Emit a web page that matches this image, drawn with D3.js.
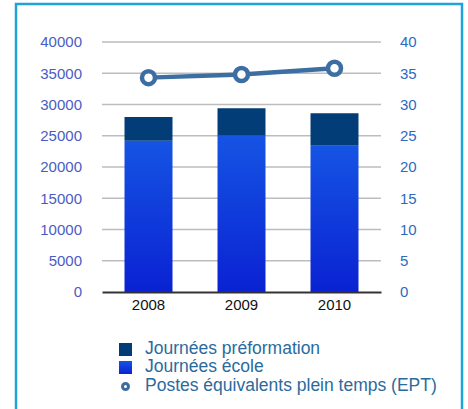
<!DOCTYPE html>
<html><head><meta charset="utf-8">
<script src="https://cdn.jsdelivr.net/npm/d3@7"></script>
<style>body{margin:0;background:#fff;font-family:"Liberation Sans",Arial,sans-serif}</style>
</head><body><svg id="c" width="468" height="409"></svg>
<script>
const years = ["2008","2009","2010"];
const ecole = [24200, 25000, 23500];
const preformation = [3800, 4400, 5100];
const ept = [34.3, 34.8, 35.8];
const leftTicks = [0,5000,10000,15000,20000,25000,30000,35000,40000];
const rightTicks = [0,5,10,15,20,25,30,35,40];
const legendLabels = ["Journées préformation","Journées école","Postes équivalents plein temps (EPT)"];

const svg = d3.select("#c");
const defs = svg.append("defs");
const g = defs.append("linearGradient").attr("id","gb").attr("x1",0).attr("x2",0).attr("y1",0).attr("y2",1);
g.append("stop").attr("offset","0%").attr("stop-color","#1554e4");
g.append("stop").attr("offset","100%").attr("stop-color","#0a22d2");

// frame
svg.append("rect").attr("x",16).attr("y",4).attr("width",446).attr("height",420)
  .attr("fill","none").attr("stroke","#1fa3d8").attr("stroke-width",2.5);

const x = d3.scaleBand().domain(years).range([102,381]).paddingInner(0.484).paddingOuter(0.242);
const yL = d3.scaleLinear().domain([0,40000]).range([292,42]);
const yR = d3.scaleLinear().domain([0,40]).range([292,42]);

// gridlines
svg.append("g").selectAll("line").data(leftTicks.slice(1)).join("line")
  .attr("x1",102).attr("x2",381).attr("y1",d=>yL(d)).attr("y2",d=>yL(d))
  .attr("stroke","#bdbdbd").attr("stroke-width",1.5);

// left axis
const axL = svg.append("g").attr("transform","translate(102,0)")
  .call(d3.axisLeft(yL).tickValues(leftTicks).tickSize(0).tickPadding(20).tickFormat(d3.format("d")));
axL.select(".domain").remove();
axL.selectAll("text").attr("fill","#4a5cc4").style("font-size","15px").style("font-family","Liberation Sans, Arial, sans-serif");

const axR = svg.append("g").attr("transform","translate(381,0)")
  .call(d3.axisRight(yR).tickValues(rightTicks).tickSize(0).tickPadding(19));
axR.select(".domain").remove();
axR.selectAll("text").attr("fill","#2c6bbf").style("font-size","15px").style("font-family","Liberation Sans, Arial, sans-serif");

// bars
svg.append("g").selectAll("rect").data(years).join("rect")
  .attr("x",d=>x(d)).attr("width",x.bandwidth())
  .attr("y",(d,i)=>yL(ecole[i])).attr("height",(d,i)=>yL(0)-yL(ecole[i]))
  .attr("fill","url(#gb)");
svg.append("g").selectAll("rect").data(years).join("rect")
  .attr("x",d=>x(d)).attr("width",x.bandwidth())
  .attr("y",(d,i)=>yL(ecole[i]+preformation[i])).attr("height",(d,i)=>yL(ecole[i])-yL(ecole[i]+preformation[i]))
  .attr("fill","#033d77");

// x axis
const axX = svg.append("g").attr("transform","translate(0,292)")
  .call(d3.axisBottom(x).tickSize(0).tickPadding(7));
axX.select(".domain").attr("stroke","#333").attr("stroke-width",2);
axX.selectAll("text").attr("fill","#111").style("font-size","15px").style("font-family","Liberation Sans, Arial, sans-serif");

// line
const line = d3.line().x((d,i)=>x(years[i])+x.bandwidth()/2).y(d=>yR(d));
svg.append("path").datum(ept).attr("d",line).attr("fill","none").attr("stroke","#3c6ea2").attr("stroke-width",4.5);
svg.append("g").selectAll("circle").data(ept).join("circle")
  .attr("cx",(d,i)=>x(years[i])+x.bandwidth()/2).attr("cy",d=>yR(d)).attr("r",6.5)
  .attr("fill","#fff").attr("stroke","#3c6ea2").attr("stroke-width",4.5);

// legend
const lg = svg.append("g");
const base = [353.5, 372, 390.5];
lg.append("rect").attr("x",119).attr("y",343).attr("width",13).attr("height",13).attr("fill","#033d77");
lg.append("rect").attr("x",119).attr("y",361).attr("width",13).attr("height",13).attr("fill","url(#gb)");
lg.append("circle").attr("cx",125.5).attr("cy",386.5).attr("r",3).attr("fill","#fff").attr("stroke","#3c6ea2").attr("stroke-width",3);
lg.selectAll("text").data(legendLabels).join("text")
  .attr("x",145).attr("y",(d,i)=>base[i])
  .attr("fill","#2a6b9c").style("font-size","17.5px").text(d=>d);
</script></body></html>
